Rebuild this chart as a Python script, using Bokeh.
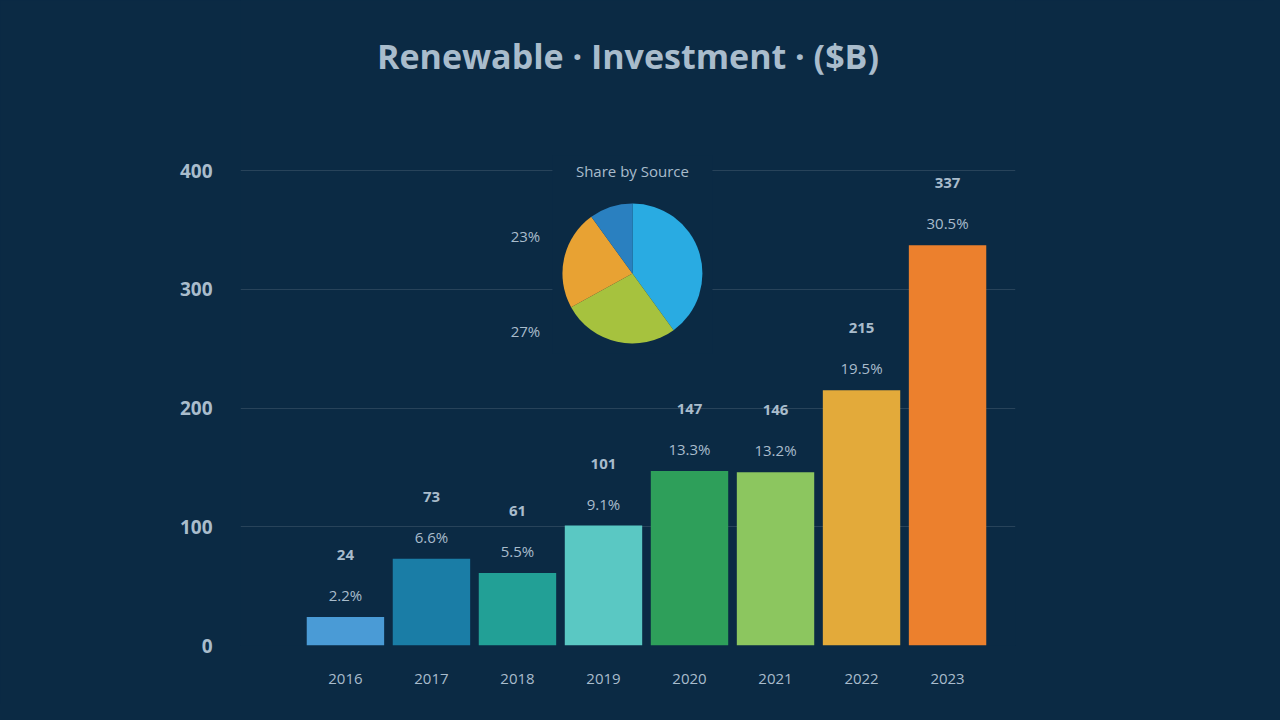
import numpy as np
from bokeh.plotting import figure
from bokeh.models import ColumnDataSource, LabelSet, Label, FixedTicker, Range1d
from bokeh.embed import file_html
from bokeh.resources import INLINE
from bokeh.core.properties import value

# ---------------- data ----------------
years = ["2016", "2017", "2018", "2019", "2020", "2021", "2022", "2023"]
investment = [24, 73, 61, 101, 147, 146, 215, 337]
share_labels = ["2.2%", "6.6%", "5.5%", "9.1%", "13.3%", "13.2%", "19.5%", "30.5%"]
bar_colors = ["#4a9bd6", "#1a7da6", "#22a096", "#5ac8c3",
              "#2e9f5a", "#8cc65f", "#e3aa3a", "#ec802d"]
y_ticks = [0, 100, 200, 300, 400]
y_tick_labels = ["0", "100", "200", "300", "400"]

pie_sources = ["Solar", "Wind", "Hydro", "Other"]
pie_share = [40, 27, 23, 10]
pie_colors = ["#29abe2", "#a6c23e", "#e8a233", "#2a80c0"]
pie_title = "Share by Source"

title_text = "Renewable · Investment · ($B)"

# ---------------- style / layout ----------------
BG = "#0b2a44"
TXT = "#a9bccc"
FONT = "Open Sans"
W, H = 1264, 704
FRAME_BOTTOM = 645            # page px of the zero line
PX_PER_Y = 1.1875             # px per unit
Y_MAX = FRAME_BOTTOM / PX_PER_Y   # frame reaches the top so the title fits inside
X_MIN, X_MAX = -0.22, 8.79
PX_PER_X = 775 / (X_MAX - X_MIN)

x_pos = list(range(1, len(years) + 1))

p = figure(width=W, height=H,
           x_range=Range1d(X_MIN, X_MAX), y_range=Range1d(0, Y_MAX),
           output_backend="svg", toolbar_location=None,
           min_border_left=240, min_border_right=249,
           min_border_top=0, min_border_bottom=H - FRAME_BOTTOM,
           background_fill_color=BG, border_fill_color=BG,
           outline_line_color=None)

# title
p.add_layout(Label(x=(X_MIN + X_MAX) / 2, y=(FRAME_BOTTOM - 55) / PX_PER_Y,
                   text=title_text, text_align="center", text_baseline="middle",
                   text_font=FONT, text_font_size="34px", text_font_style="bold",
                   text_color=TXT))

# axes
p.xaxis.ticker = FixedTicker(ticks=x_pos)
p.xaxis.major_label_overrides = {x: yr for x, yr in zip(x_pos, years)}
p.yaxis.ticker = FixedTicker(ticks=y_ticks)
p.yaxis.major_label_overrides = {t: l for t, l in zip(y_ticks, y_tick_labels)}
for ax in (p.xaxis, p.yaxis):
    ax.axis_line_color = None
    ax.major_tick_line_color = None
    ax.minor_tick_line_color = None
    ax.major_label_text_color = TXT
    ax.major_label_text_font = FONT
p.xaxis.major_label_text_font_size = "15px"
p.xaxis.major_label_standoff = 22
p.yaxis.major_label_text_font_size = "19px"
p.yaxis.major_label_text_font_style = "bold"
p.yaxis.major_label_standoff = 22

p.xgrid.grid_line_color = None
p.ygrid.ticker = FixedTicker(ticks=y_ticks)
p.ygrid.grid_line_color = "#ffffff"
p.ygrid.grid_line_alpha = 0.12

# bars
src = ColumnDataSource(dict(x=x_pos, top=investment, color=bar_colors,
                            val=[str(v) for v in investment], share=share_labels))
p.vbar(x="x", top="top", bottom=0, width=0.9, fill_color="color",
       line_color=None, source=src)

p.add_layout(LabelSet(x="x", y="top", text="val", source=src, y_offset=62,
                      text_align="center", text_baseline="middle",
                      text_font=value(FONT), text_font_size="15px",
                      text_font_style="bold", text_color=TXT))
p.add_layout(LabelSet(x="x", y="top", text="share", source=src, y_offset=22,
                      text_align="center", text_baseline="middle",
                      text_font=value(FONT), text_font_size="15px",
                      text_color=TXT))

# pie inset
PIE_CX = 1 + (632 - 345) / PX_PER_X
PIE_CY = (FRAME_BOTTOM - 273) / PX_PER_Y
PIE_R = 70

p.quad(left=[PIE_CX - 80 / PX_PER_X], right=[PIE_CX + 80 / PX_PER_X],
       bottom=[PIE_CY - 80 / PX_PER_Y], top=[PIE_CY + 118 / PX_PER_Y],
       fill_color=BG, line_color=None)

frac = np.array(pie_share, dtype=float) / sum(pie_share)
ends = np.pi / 2 - 2 * np.pi * np.concatenate([[0], np.cumsum(frac)[:-1]])
starts = np.pi / 2 - 2 * np.pi * np.cumsum(frac)
pie_src = ColumnDataSource(dict(x=[PIE_CX] * len(pie_share), y=[PIE_CY] * len(pie_share),
                                start=starts, end=ends, color=pie_colors,
                                name=pie_sources))
p.wedge(x="x", y="y", radius=PIE_R, radius_units="screen",
        start_angle="start", end_angle="end", fill_color="color",
        line_color=None, source=pie_src)

p.add_layout(Label(x=PIE_CX, y=PIE_CY, y_offset=103, text=pie_title,
                   text_align="center", text_baseline="middle",
                   text_font=FONT, text_font_size="15px", text_color=TXT))
p.add_layout(Label(x=PIE_CX, y=PIE_CY, x_offset=-107, y_offset=38,
                   text=f"{pie_share[2]}%", text_align="center", text_baseline="middle",
                   text_font=FONT, text_font_size="15px", text_color=TXT))
p.add_layout(Label(x=PIE_CX, y=PIE_CY, x_offset=-107, y_offset=-57,
                   text=f"{pie_share[1]}%", text_align="center", text_baseline="middle",
                   text_font=FONT, text_font_size="15px", text_color=TXT))

html = file_html(p, INLINE)
html = html.replace("<head>", f"<head><style>body{{background:{BG};}}</style>", 1)
open("out.html", "w").write(html)
